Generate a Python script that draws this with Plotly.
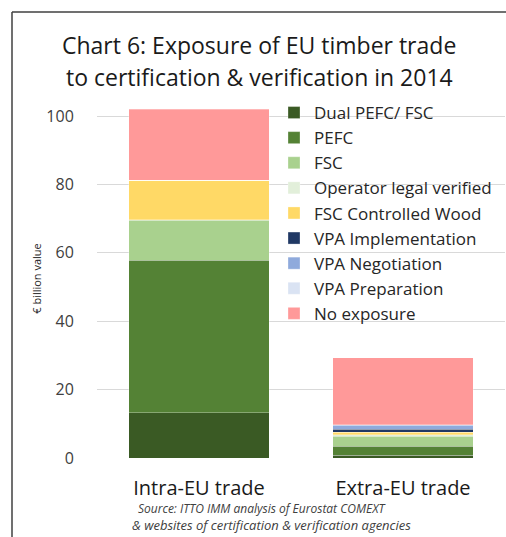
import plotly.graph_objects as go

categories = ["Intra-EU trade", "Extra-EU trade"]
series_names = ["Dual PEFC/ FSC", "PEFC", "FSC", "Operator legal verified",
                "FSC Controlled Wood", "VPA Implementation", "VPA Negotiation",
                "VPA Preparation", "No exposure"]
dual_pefc_fsc = [13.2, 0.8]
pefc = [44.7, 2.7]
fsc = [11.7, 2.9]
operator_legal = [0.1, 0.4]
fsc_controlled = [11.6, 0.7]
vpa_implementation = [0.0, 0.9]
vpa_negotiation = [0.0, 1.25]
vpa_preparation = [0.0, 0.1]
no_exposure = [20.7, 19.5]
y_ticks = [0, 20, 40, 60, 80, 100]

series_values = [dual_pefc_fsc, pefc, fsc, operator_legal, fsc_controlled,
                 vpa_implementation, vpa_negotiation, vpa_preparation, no_exposure]
colors = ["#3a5a24", "#548235", "#a9d18e", "#e2efda", "#ffd966",
          "#203864", "#8faadc", "#dae3f3", "#ff9999"]

FONT = "Open Sans"

fig = go.Figure()
for name, vals, col in zip(series_names, series_values, colors):
    fig.add_trace(go.Bar(
        x=categories, y=vals, name=name,
        marker=dict(color=col, line=dict(color="rgba(255,255,255,0.5)", width=0.6)),
    ))

W, H = 506, 537
L, R, T, B = 97, 1, 99, 79
pw, ph = W - L - R, H - T - B

def px(x):
    return (x - L) / pw

def py(y):
    return (H - B - y) / ph

fig.update_layout(
    width=W, height=H,
    margin=dict(l=L, r=R, t=T, b=B, autoexpand=False),
    barmode="stack", bargap=0.31,
    plot_bgcolor="white", paper_bgcolor="white",
    font=dict(family=FONT, color="#404040"),
    showlegend=True,
    legend=dict(
        traceorder="normal",
        x=px(274), xanchor="left", y=py(95), yanchor="top",
        bgcolor="rgba(255,255,255,0)",
        font=dict(family=FONT, size=17, color="#262626"),
        itemwidth=30,
    ),
    xaxis=dict(
        range=[-0.5, 1.5], showgrid=False, showline=False, zeroline=False,
        tickfont=dict(family=FONT, size=20, color="#1a1a1a"),
        ticks="outside", ticklen=12, tickcolor="rgba(0,0,0,0)",
    ),
    yaxis=dict(
        range=[0, 105], tickvals=y_ticks, showgrid=True, gridcolor="#d9d9d9",
        gridwidth=1, zeroline=False, showline=False,
        tickfont=dict(family=FONT, size=16, color="#404040"),
        ticks="outside", ticklen=19, tickcolor="rgba(0,0,0,0)",
        title=dict(text="€ billion value", font=dict(family=FONT, size=11, color="#262626"),
                   standoff=2),
    ),
    shapes=[
        dict(type="line", xref="paper", yref="paper",
             x0=px(12), x1=px(12), y0=py(12), y1=py(537), line=dict(color="#404040", width=1.5)),
        dict(type="line", xref="paper", yref="paper",
             x0=px(12), x1=px(506), y0=py(12), y1=py(12), line=dict(color="#404040", width=1.5)),
    ],
    annotations=[
        dict(text="Chart 6: Exposure of EU timber trade", xref="paper", yref="paper",
             x=px(259), y=py(45), xanchor="center", yanchor="middle", showarrow=False,
             font=dict(family=FONT, size=23, color="#1a1a1a")),
        dict(text="to certification &amp; verification in 2014", xref="paper", yref="paper",
             x=px(259), y=py(77), xanchor="center", yanchor="middle", showarrow=False,
             font=dict(family=FONT, size=23, color="#1a1a1a")),
        dict(text="<i>Source: ITTO IMM analysis of Eurostat COMEXT</i>", xref="paper", yref="paper",
             x=px(136), y=py(508), xanchor="left", yanchor="middle", showarrow=False,
             font=dict(family=FONT, size=12, color="#404040")),
        dict(text="<i>&amp; websites of certification &amp; verification agencies</i>", xref="paper", yref="paper",
             x=px(130), y=py(525), xanchor="left", yanchor="middle", showarrow=False,
             font=dict(family=FONT, size=13, color="#404040")),
    ],
)

fig.write_html("out.html", config={"displayModeBar": False},
               post_script="document.body.style.margin='0';document.body.style.padding='0';")
